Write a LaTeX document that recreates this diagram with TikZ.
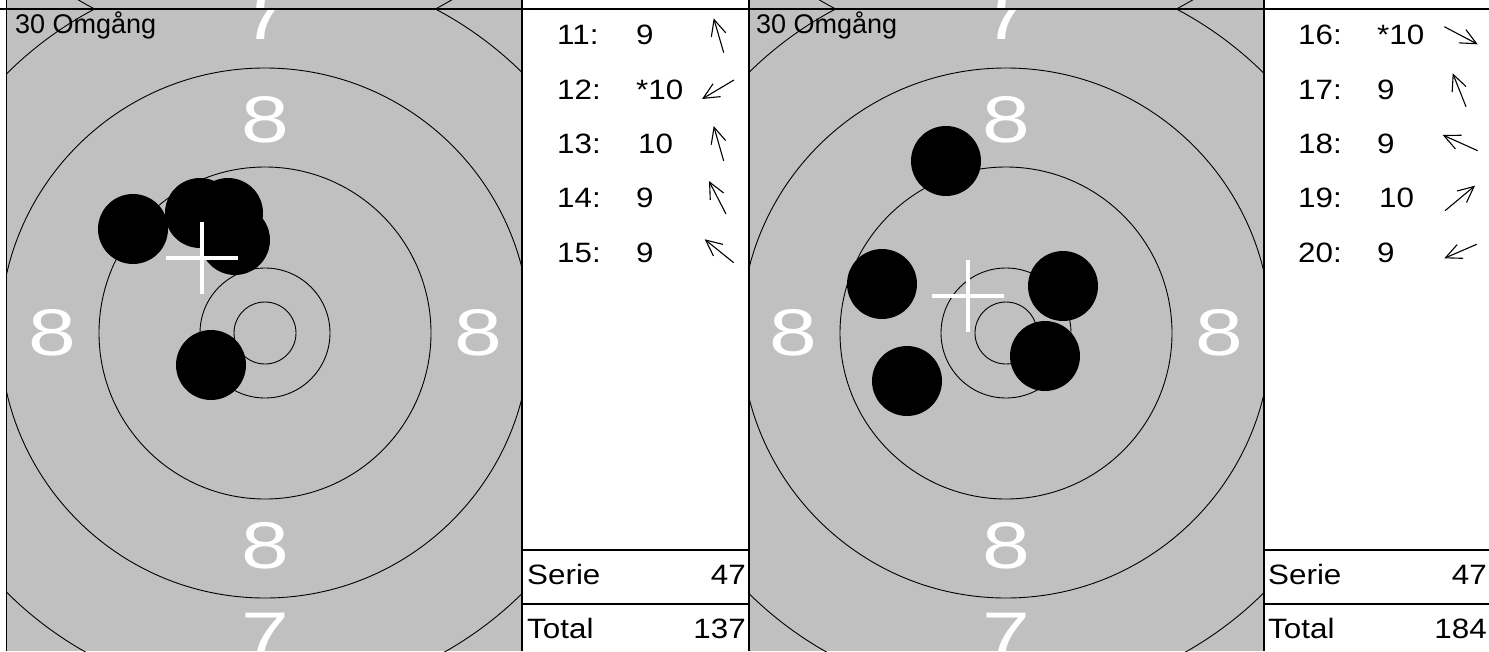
\documentclass[tikz,border=0pt]{standalone}
\usepackage{fontspec}
\setmainfont{Liberation Sans}
\usetikzlibrary{arrows.meta}
\definecolor{tgray}{RGB}{192,192,192}
\tikzset{
  ring/.style={draw=black, line width=0.9pt},
  hole/.style={fill=black},
  mpi/.style={draw=white, line width=4pt},
  frameline/.style={draw=black, line width=1.3pt},
  biglbl/.style={text=white, inner sep=0pt, font=\fontsize{66}{74}\selectfont},
  score/.style={inner sep=0pt, anchor=base west, font=\fontsize{28}{32}\selectfont},
  scorer/.style={inner sep=0pt, anchor=base east, font=\fontsize{28}{32}\selectfont},
  ttl/.style={inner sep=0pt, anchor=base west, font=\fontsize{27}{30}\selectfont},
  shotarrow/.style={draw=black, line width=1.1pt, -{Straight Barb[length=16pt,width=15pt]}},
}
\newcommand{\sx}[1]{\scalebox{1.12}[1]{#1}}
\newcommand{\bx}[1]{\scalebox{1.3}[1]{#1}}
\newcommand{\rings}[2]{%
  \foreach \r in {31,65,166,265,366} {\draw[ring] (#1,#2) circle[radius=\r];}
}
\newcommand{\eights}[2]{%
  \node[biglbl] at (#1,#2-213) {\bx{8}};
  \node[biglbl] at (#1,#2+213) {\bx{8}};
  \node[biglbl] at (#1-213,#2) {\bx{8}};
  \node[biglbl] at (#1+213,#2) {\bx{8}};
}
\begin{document}
\begin{tikzpicture}[x=1pt,y=-1pt]
\useasboundingbox (0,0) rectangle (1489,651);
\fill[white] (0,0) rectangle (1489,651);

% ---------- left target ----------
\begin{scope}
  \clip (7,0) rectangle (522,9);
  \fill[tgray] (7,0) rectangle (522,9);
  \rings{265}{-315}
  \node[biglbl] at (265,-14) {\bx{7}};
\end{scope}
\begin{scope}
  \clip (7,10) rectangle (522,651);
  \fill[tgray] (7,10) rectangle (522,651);
  \rings{265}{333}
  \eights{265}{333}
  \node[biglbl] at (265,635.5) {\bx{7}};
  \fill[hole] (133,229) circle[radius=35];
  \fill[hole] (200,213) circle[radius=35];
  \fill[hole] (228,213) circle[radius=35];
  \fill[hole] (235,240) circle[radius=35];
  \fill[hole] (211,365) circle[radius=35];
  \draw[mpi] (202,222) -- (202,294);
  \draw[mpi] (166,258) -- (238,258);
\end{scope}
\begin{scope}
  \clip (7,10) rectangle (522,651);
  \node[biglbl] at (265,16.5) {\bx{7}};
\end{scope}
\node[ttl] (t1) at (15,33) {30 Omgång};

% ---------- right target ----------
\begin{scope}
  \clip (749,0) rectangle (1264,9);
  \fill[tgray] (749,0) rectangle (1264,9);
  \rings{1006}{-315}
  \node[biglbl] at (1006,-14) {\bx{7}};
\end{scope}
\begin{scope}
  \clip (749,10) rectangle (1264,651);
  \fill[tgray] (749,10) rectangle (1264,651);
  \rings{1006}{333}
  \eights{1006}{333}
  \node[biglbl] at (1006,635.5) {\bx{7}};
  \fill[hole] (946,161) circle[radius=35];
  \fill[hole] (882,284) circle[radius=35];
  \fill[hole] (1063,286) circle[radius=35];
  \fill[hole] (1045,356) circle[radius=35];
  \fill[hole] (907,381) circle[radius=35];
  \draw[mpi] (968,260) -- (968,332);
  \draw[mpi] (932,296) -- (1004,296);
\end{scope}
\begin{scope}
  \clip (749,10) rectangle (1264,651);
  \node[biglbl] at (1006,16.5) {\bx{7}};
\end{scope}
\node[ttl] (t2) at (756,33) {30 Omgång};

% ---------- frame lines ----------
\draw[frameline] (0,9) -- (1489,9);
\draw[frameline] (6.5,0) -- (6.5,651);
\draw[frameline] (522,0) -- (522,651);
\draw[frameline] (749,0) -- (749,651);
\draw[frameline] (1264,0) -- (1264,651);
\draw[frameline] (522,550) -- (749,550);
\draw[frameline] (522,604) -- (749,604);
\draw[frameline] (1264,550) -- (1489,550);
\draw[frameline] (1264,604) -- (1489,604);

% ---------- left score column ----------
\node[score] (l11) at (557,44) {\sx{11:}};
\node[score] (l12) at (557,99) {\sx{12:}};
\node[score] (l13) at (557,153.5) {\sx{13:}};
\node[score] (l14) at (557,207.5) {\sx{14:}};
\node[score] (l15) at (557,262) {\sx{15:}};
\node[score] (v11) at (636,44) {\sx{9}};
\node[score] (v12) at (636,99) {\sx{*10}};
\node[score] (v13) at (638,153.5) {\sx{10}};
\node[score] (v14) at (636,207.5) {\sx{9}};
\node[score] (v15) at (636,262) {\sx{9}};
\draw[shotarrow] (723.7,52.7) -- (713.7,18.3);
\draw[shotarrow] (734,80) -- (702,99);
\draw[shotarrow] (723.7,161) -- (713.7,126);
\draw[shotarrow] (726,214) -- (709,181);
\draw[shotarrow] (733.7,262.7) -- (704.7,239.3);
\node[score] (ls) at (527,584) {\sx{Serie}};
\node[scorer] (lsv) at (746,584) {\sx{47}};
\node[score] (lt) at (527,638) {\sx{Total}};
\node[scorer] (ltv) at (746,638) {\sx{137}};

% ---------- right score column ----------
\node[score] (r16) at (1298,44) {\sx{16:}};
\node[score] (r17) at (1298,99) {\sx{17:}};
\node[score] (r18) at (1298,153.5) {\sx{18:}};
\node[score] (r19) at (1298,207.5) {\sx{19:}};
\node[score] (r20) at (1298,262) {\sx{20:}};
\node[score] (w16) at (1377,44) {\sx{*10}};
\node[score] (w17) at (1377,99) {\sx{9}};
\node[score] (w18) at (1377,153.5) {\sx{9}};
\node[score] (w19) at (1379,207.5) {\sx{10}};
\node[score] (w20) at (1377,262) {\sx{9}};
\draw[shotarrow] (1444.3,26.7) -- (1477.7,44.3);
\draw[shotarrow] (1466,106.7) -- (1452.7,73.3);
\draw[shotarrow] (1477.7,150.7) -- (1442.7,135);
\draw[shotarrow] (1445,210.7) -- (1475,185.7);
\draw[shotarrow] (1476.7,244.3) -- (1444.3,258.3);
\node[score] (rs) at (1268,584) {\sx{Serie}};
\node[scorer] (rsv) at (1487,584) {\sx{47}};
\node[score] (rt) at (1268,638) {\sx{Total}};
\node[scorer] (rtv) at (1487,638) {\sx{184}};
\end{tikzpicture}
\end{document}
